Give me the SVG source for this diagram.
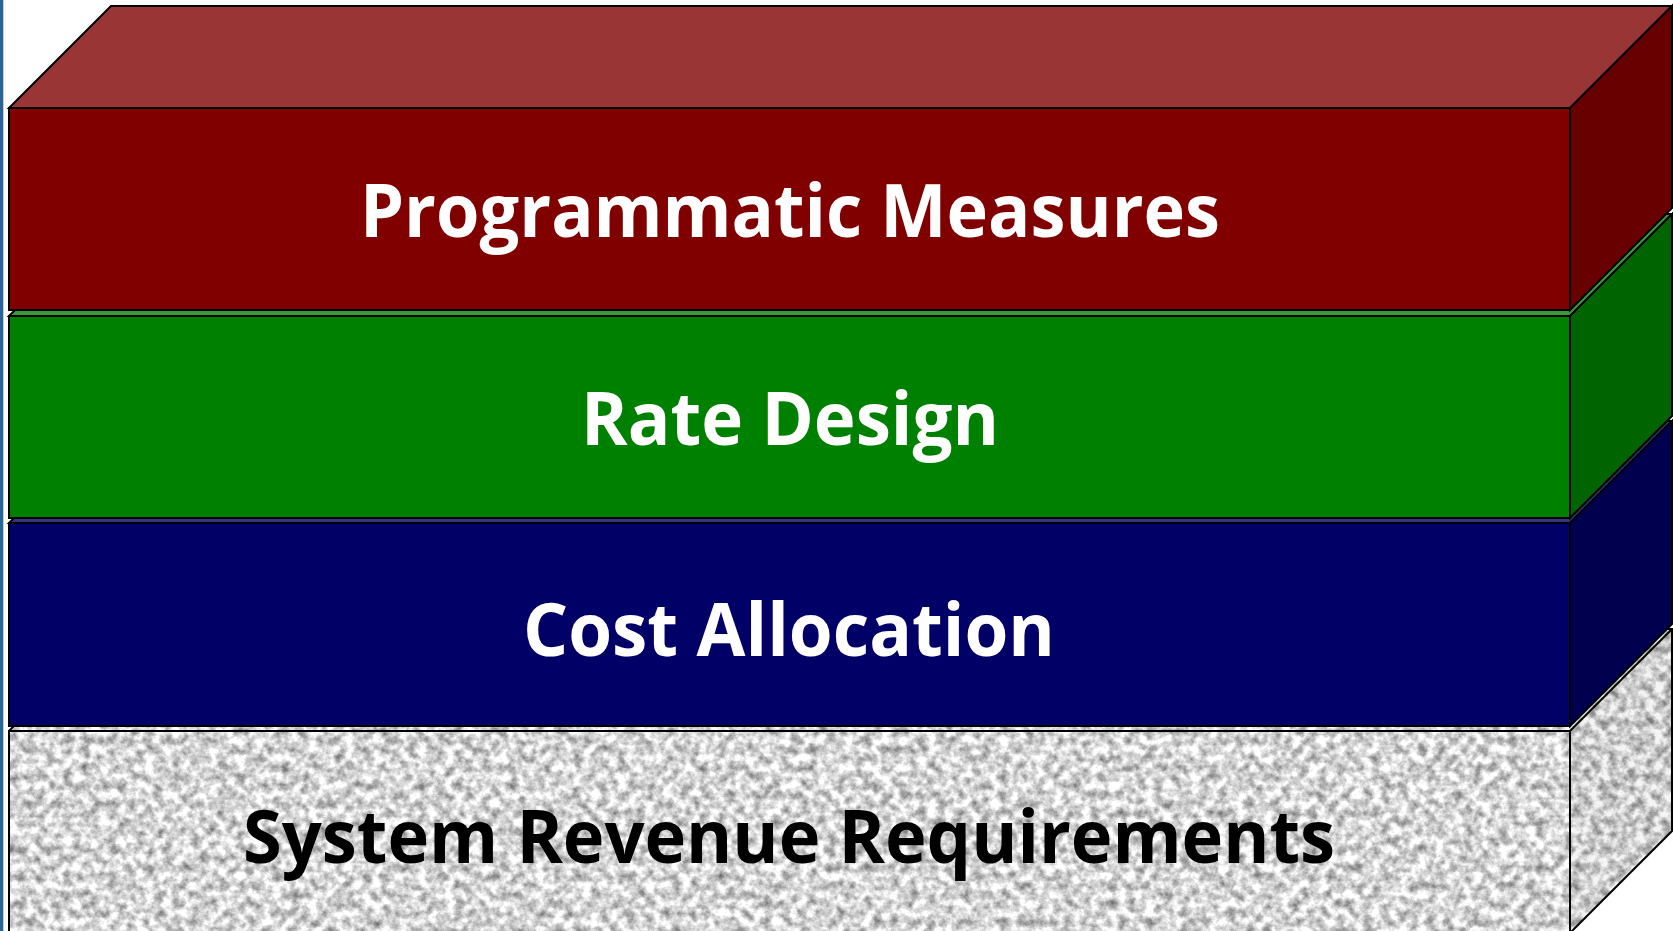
<svg xmlns="http://www.w3.org/2000/svg" width="1673" height="931" viewBox="0 0 1673 931">
<style>
.edge{stroke:#000;stroke-width:2;stroke-linejoin:miter}
.lbl{font-family:"Open Sans","Noto Sans","Liberation Sans",sans-serif;font-weight:700;font-size:73px;text-anchor:middle}
.w{fill:#fff}
.k{fill:#000}
</style>
<defs>
<filter id="marble" x="0" y="0" width="100%" height="100%" color-interpolation-filters="sRGB">
<feTurbulence type="fractalNoise" baseFrequency="0.11" numOctaves="4" seed="7" result="n"/>
<feColorMatrix in="n" type="matrix" values="0.95 0 0 0 0.36  0.95 0 0 0 0.36  0.95 0 0 0 0.36  0 0 0 0 1" result="g"/>
<feComposite in="g" in2="SourceGraphic" operator="in"/>
</filter>
</defs>
<rect x="0" y="0" width="1673" height="931" fill="#fff"/>
<rect x="0" y="0" width="3.3" height="931" fill="#2b6598"/>

<g id="layer-system-revenue">
<path d="M9,731 L111,629 L1672,629 L1570,731 Z" fill="#ccc" filter="url(#marble)"/>
<path d="M1570,731 L1672,629 L1672,831 L1570,933 Z" fill="#ccc" filter="url(#marble)"/>
<path d="M1570,731 L1672,629 L1672,831 L1570,933 Z" fill="#000" fill-opacity="0.04"/>
<rect x="9" y="731" width="1561" height="202" fill="#ccc" filter="url(#marble)"/>
<path class="edge" fill="none" d="M9,731 L111,629 L1672,629 L1672,831 L1570,933 M9,933 L9,731 L1570,731 L1672,629 M1570,731 L1570,933"/>
<text class="lbl k" x="789" y="863" textLength="1092" lengthAdjust="spacingAndGlyphs">System Revenue Requirements</text>
</g>

<g id="layer-cost-allocation">
<path class="edge" d="M9,523 L111,421 L1672,421 L1570,523 Z" fill="#33337f"/>
<path class="edge" d="M1570,523 L1672,421 L1672,624 L1570,726 Z" fill="#00004f"/>
<rect class="edge" x="9" y="523" width="1561" height="203" fill="#000066"/>
<text class="lbl w" x="789" y="656" textLength="532" lengthAdjust="spacingAndGlyphs">Cost Allocation</text>
</g>

<g id="layer-rate-design">
<path class="edge" d="M9,316 L111,214 L1672,214 L1570,316 Z" fill="#3a9a3a"/>
<path class="edge" d="M1570,316 L1672,214 L1672,416 L1570,518 Z" fill="#006400"/>
<rect class="edge" x="9" y="316" width="1561" height="202" fill="#008000"/>
<text class="lbl w" x="790" y="445" textLength="418" lengthAdjust="spacingAndGlyphs">Rate Design</text>
</g>

<g id="layer-programmatic-measures">
<path class="edge" d="M9,108 L111,6 L1672,6 L1570,108 Z" fill="#993535"/>
<path class="edge" d="M1570,108 L1672,6 L1672,208 L1570,310 Z" fill="#680000"/>
<rect class="edge" x="9" y="108" width="1561" height="202" fill="#800000"/>
<text class="lbl w" x="790" y="237" textLength="860" lengthAdjust="spacingAndGlyphs">Programmatic Measures</text>
</g>
</svg>
